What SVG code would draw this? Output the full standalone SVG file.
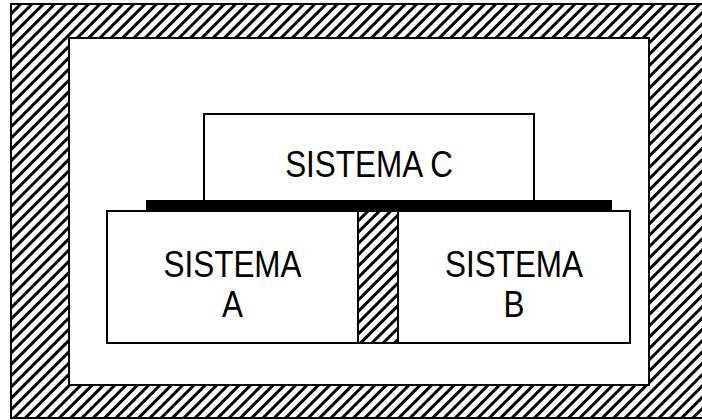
<svg xmlns="http://www.w3.org/2000/svg" width="702" height="420" viewBox="0 0 702 420">
  <defs>
    <pattern id="hatch" patternUnits="userSpaceOnUse" width="8" height="8" patternTransform="rotate(45)">
      <rect x="0" y="0" width="8" height="8" fill="#fff"/>
      <rect x="0" y="0" width="3" height="8" fill="#000"/>
    </pattern>
  </defs>
  <style>
    .box { fill: #fff; stroke: #000; stroke-width: 2; }
    .hatched { fill: url(#hatch); stroke: #000; stroke-width: 2; }
    .lbl { font-family: "Liberation Sans", Arial, sans-serif; font-size: 37px; fill: #000; text-anchor: middle; }
  </style>
  <rect width="702" height="420" fill="#fff"/>
  <g id="enclosure">
    <rect class="hatched" x="11" y="4" width="693" height="414"/>
    <rect class="box" x="69" y="38" width="580" height="347"/>
  </g>
  <g id="connectors"/>
  <g id="sistema-c">
    <rect class="box" x="204" y="114" width="330" height="88"/>
    <text class="lbl" transform="translate(369,177) scale(0.85,1)">SISTEMA C</text>
  </g>
  <g id="sistema-a">
    <rect class="box" x="107" y="211" width="251" height="132"/>
    <text class="lbl" transform="translate(232.5,277) scale(0.85,1)">SISTEMA</text>
    <text class="lbl" transform="translate(232.5,317) scale(0.85,1)">A</text>
  </g>
  <g id="sistema-b">
    <rect class="box" x="398" y="211" width="232" height="132"/>
    <text class="lbl" transform="translate(514,277) scale(0.85,1)">SISTEMA</text>
    <text class="lbl" transform="translate(514,317) scale(0.85,1)">B</text>
  </g>
  <g id="barrier">
    <rect class="hatched" x="358" y="211" width="40" height="132"/>
  </g>
  <g id="bar">
    <rect x="146" y="200" width="466" height="12" fill="#000"/>
  </g>
</svg>
